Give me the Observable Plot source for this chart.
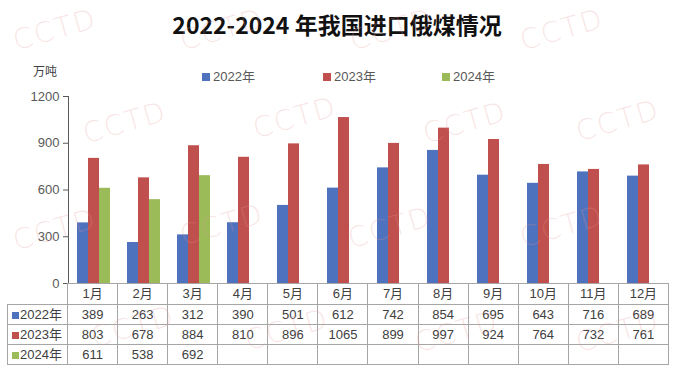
<!DOCTYPE html>
<html>
<head>
<meta charset="utf-8">
<script src="https://cdn.jsdelivr.net/npm/d3@7"></script>
<script src="https://cdn.jsdelivr.net/npm/@observablehq/plot@0.6"></script>
<style>
  html, body { margin: 0; padding: 0; background: #fff; }
  #root { position: relative; width: 674px; height: 374px; overflow: hidden; background: #fff;
          font-family: "Liberation Sans", "Noto Sans CJK SC", sans-serif; }
  .abs { position: absolute; white-space: nowrap; }
  #title { left: 0; top: 10px; width: 674px; text-align: center; font-family: "Noto Sans CJK SC", sans-serif;
           font-weight: bold; font-size: 23px; line-height: 28px; color: #111; }
  #unit { left: 33px; top: 63px; font-size: 12px; line-height: 16px; color: #404040; font-family: "Noto Sans CJK SC", sans-serif; }
  .leg { font-size: 13px; line-height: 16px; color: #595959; top: 69px; }
  .sw { display: inline-block; width: 8px; height: 8px; margin-right: 3px; vertical-align: 0px; }
  #chart { position: absolute; left: 0; top: 0; }
  #tbl { position: absolute; left: 7px; top: 283px; border-collapse: collapse; table-layout: fixed;
         font-size: 13px; color: #404040; }
  #tbl td { border: 1px solid #a6a6a6; text-align: center; padding: 0; height: 19px; line-height: 19px; overflow: hidden; }
  #tbl td.corner { border: none; border-right: 1px solid #a6a6a6; }
  #tbl td.lab { text-align: left; padding-left: 4px; }
  #tbl .sw { width: 7px; height: 7px; margin-right: 1px; }
  .wm { position: absolute; font-family: "DejaVu Sans", sans-serif; font-weight: 200; font-size: 28px; letter-spacing: 2px;
        line-height: 22px; color: rgba(225, 150, 150, 0.25); transform: translate(-50%, -50%) rotate(-16deg);
        pointer-events: none; }
</style>
</head>
<body>
<div id="root">
  <div id="title" class="abs">2022-2024 年我国进口俄煤情况</div>
  <div id="unit" class="abs">万吨</div>
</div>
<script>
const months = ["1月","2月","3月","4月","5月","6月","7月","8月","9月","10月","11月","12月"];
const years = ["2022年","2023年","2024年"];
const v2022 = [389, 263, 312, 390, 501, 612, 742, 854, 695, 643, 716, 689];
const v2023 = [803, 678, 884, 810, 896, 1065, 899, 997, 924, 764, 732, 761];
const v2024 = [611, 538, 692];
const colors = ["#4F72BE", "#C0504D", "#9BBB59"];
const yTicks = [0, 300, 600, 900, 1200];
const legendLeft = [202, 323, 442];
// watermark centres
const watermarks = [
  [55, 30], [222, 30], [392, 30], [562, 30],
  [125, 123], [295, 118], [465, 123], [618, 121],
  [55, 230], [222, 225], [390, 228], [562, 227],
  [133, 327], [287, 330], [457, 332], [618, 332]
];

const series = [v2022, v2023, v2024];
const data = years.flatMap((yr, i) => series[i].map((v, j) => ({month: months[j], year: yr, value: v})));

const root = document.getElementById("root");

// legend
years.forEach((yr, i) => {
  const d = document.createElement("div");
  d.className = "abs leg";
  d.style.left = legendLeft[i] + "px";
  d.innerHTML = `<span class="sw" style="background:${colors[i]}"></span>${yr}`;
  root.appendChild(d);
});

const chart = Plot.plot({
  width: 674,
  height: 290,
  marginTop: 96,
  marginBottom: 7,
  marginLeft: 67,
  marginRight: 6,
  style: {fontFamily: "'Liberation Sans', 'Noto Sans CJK SC', sans-serif", fontSize: "13px", color: "#595959", background: "transparent", overflow: "visible"},
  fx: {domain: months, padding: 0, axis: null, label: null},
  x: {domain: years, paddingInner: 0, paddingOuter: 0.75, axis: null},
  y: {domain: [0, 1200], ticks: yTicks, tickSize: 5, tickPadding: 4, line: true, label: null, tickFormat: d => String(d)},
  color: {domain: years, range: colors},
  marks: [
    Plot.barY(data, {fx: "month", x: "year", y: "value", fill: "year"}),
    Plot.ruleY([0], {stroke: "#7f7f7f"})
  ]
});
chart.id = "chart";
root.appendChild(chart);

// data table
const colW = (674 - 67 - 6) / months.length;
const tbl = document.createElement("table");
tbl.id = "tbl";
const cg = document.createElement("colgroup");
cg.innerHTML = `<col style="width:60px">` + months.map(() => `<col style="width:${colW}px">`).join("");
tbl.appendChild(cg);
const head = document.createElement("tr");
head.innerHTML = `<td class="corner"></td>` + months.map(m => `<td>${m}</td>`).join("");
tbl.appendChild(head);
years.forEach((yr, i) => {
  const tr = document.createElement("tr");
  tr.innerHTML = `<td class="lab"><span class="sw" style="background:${colors[i]}"></span>${yr}</td>` +
    months.map((m, j) => `<td>${series[i][j] !== undefined ? series[i][j] : ""}</td>`).join("");
  tbl.appendChild(tr);
});
root.appendChild(tbl);
head.querySelectorAll("td").forEach(td => { td.style.height = "20px"; td.style.lineHeight = "20px"; });

// watermarks
watermarks.forEach(([x, y]) => {
  const w = document.createElement("div");
  w.className = "wm";
  w.style.left = x + "px";
  w.style.top = y + "px";
  w.textContent = "CCTD";
  root.appendChild(w);
});
</script>
</body>
</html>
